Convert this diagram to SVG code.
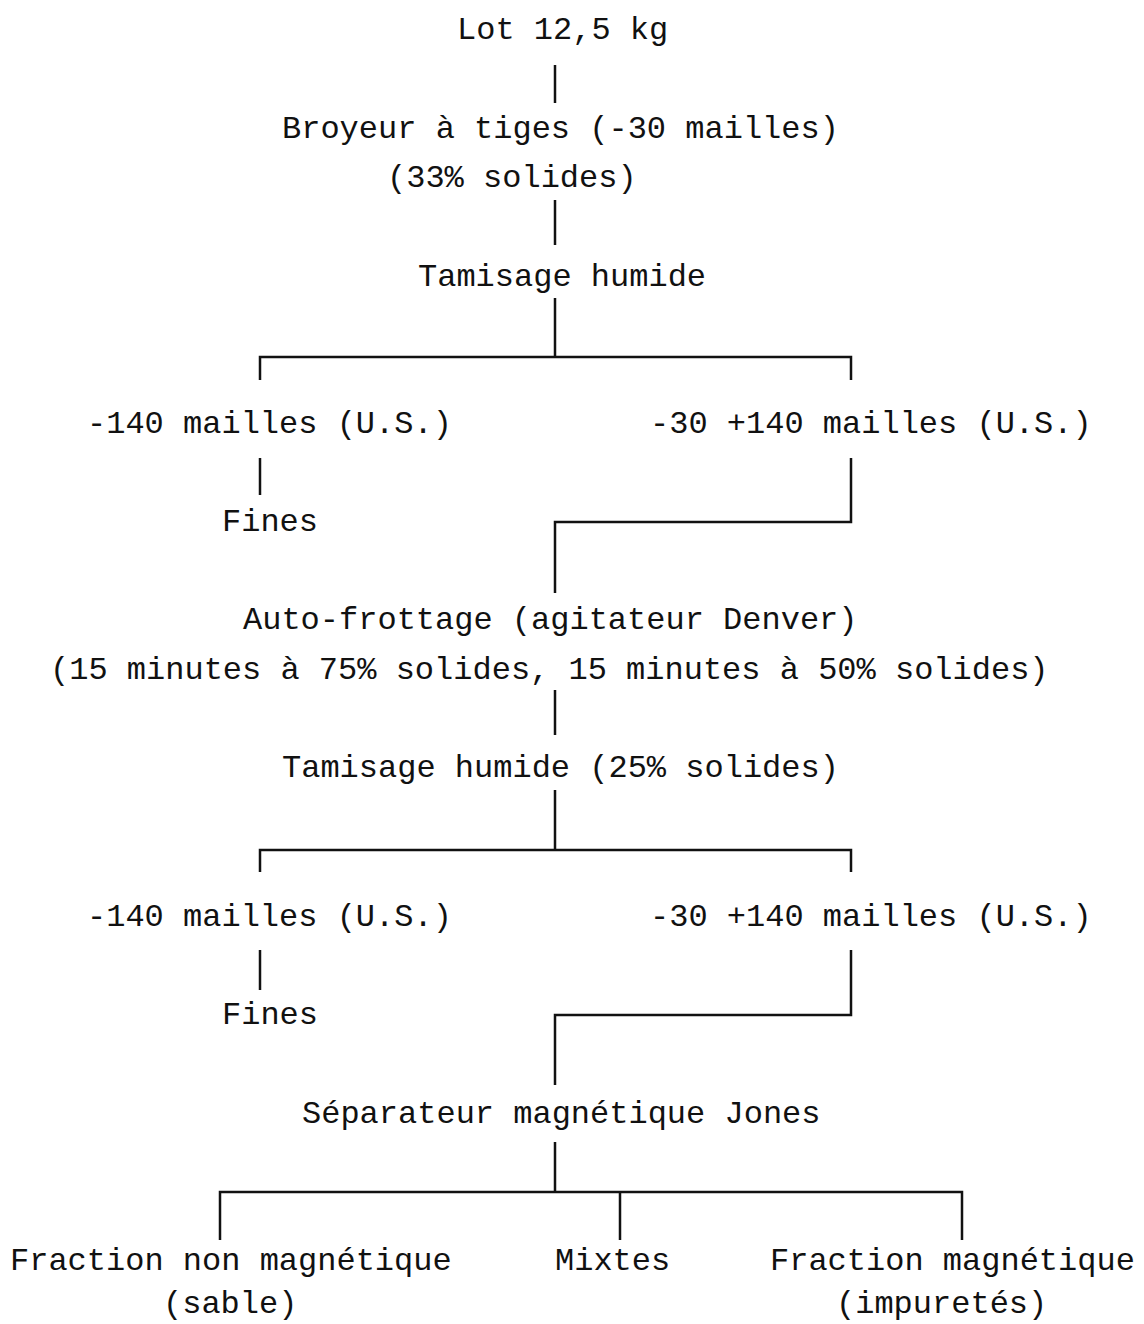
<svg xmlns="http://www.w3.org/2000/svg" width="1144" height="1324" viewBox="0 0 1144 1324">
<style>
text{font-family:"Liberation Mono","Courier New",monospace;font-size:32px;fill:#111;}
.c{fill:none;stroke:#111;stroke-width:2.5;}
</style>
<rect width="1144" height="1324" fill="#fff"/>
<g id="connectors" class="c">
<path d="M555 65V103"/>
<path d="M555 200V245"/>
<path d="M555 298V357M260 380V357H851V380"/>
<path d="M260 458V495"/>
<path d="M851 458V522H555V593"/>
<path d="M555 690V735"/>
<path d="M555 790V850M260 872V850H851V872"/>
<path d="M260 950V990"/>
<path d="M851 950V1015H555V1085"/>
<path d="M555 1142V1192M220 1240V1192H962V1240M620 1192V1240"/>
</g>
<g id="n1"><text x="457" y="39">Lot 12,5 kg</text></g>
<g id="n2"><text x="282" y="138">Broyeur à tiges (-30 mailles)</text><text x="387" y="187">(33% solides)</text></g>
<g id="n3"><text x="418" y="286">Tamisage humide</text></g>
<g id="n4"><text x="87" y="433">-140 mailles (U.S.)</text></g>
<g id="n5"><text x="650" y="433">-30 +140 mailles (U.S.)</text></g>
<g id="n6"><text x="222" y="531">Fines</text></g>
<g id="n7"><text x="243" y="629">Auto-frottage (agitateur Denver)</text><text x="50" y="679">(15 minutes à 75% solides, 15 minutes à 50% solides)</text></g>
<g id="n8"><text x="282" y="777">Tamisage humide (25% solides)</text></g>
<g id="n9"><text x="87" y="926">-140 mailles (U.S.)</text></g>
<g id="n10"><text x="650" y="926">-30 +140 mailles (U.S.)</text></g>
<g id="n11"><text x="222" y="1024">Fines</text></g>
<g id="n12"><text x="302" y="1123">Séparateur magnétique Jones</text></g>
<g id="n13"><text x="10" y="1270">Fraction non magnétique</text><text x="163" y="1313">(sable)</text></g>
<g id="n14"><text x="555" y="1270">Mixtes</text></g>
<g id="n15"><text x="770" y="1270">Fraction magnétique</text><text x="836" y="1313">(impuretés)</text></g>
</svg>
